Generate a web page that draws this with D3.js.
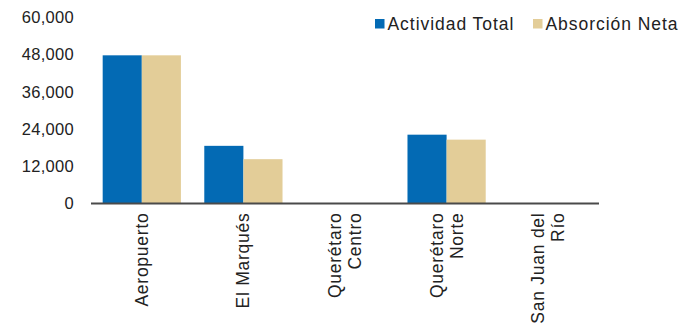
<!DOCTYPE html>
<html lang="es">
<head>
  <meta charset="UTF-8">
  <title>Actividad y absorción</title>
  <script src="https://cdnjs.cloudflare.com/ajax/libs/d3/7.8.5/d3.min.js"></script>
  <style>
    body { margin: 0; background: #fff; }
    svg { display: block; font-family: "Liberation Sans", Arial, sans-serif; }
    .tick text { fill: #222; }
  </style>
</head>
<body>
<div id="wrapper"></div>
<script>
// data
const categories = ["Aeropuerto", "El Marqués", "Querétaro Centro", "Querétaro Norte", "San Juan del Río"]
const catLines = [["Aeropuerto"], ["El Marqués"], ["Querétaro", "Centro"], ["Querétaro", "Norte"], ["San Juan del", "Río"]]
const seriesNames = ["Actividad Total", "Absorción Neta"]
const actividadTotal = [47800, 18600, 0, 22200, 0]
const absorcionNeta = [47800, 14300, 0, 20600, 0]
const yTicks = [0, 12000, 24000, 36000, 48000, 60000]
const colors = ["#036ab4", "#e3cd98"]

const width = 695, height = 324
const margin = { top: 17.5, right: 96, bottom: 120.5, left: 91 }

const svg = d3.select("#wrapper").append("svg")
  .attr("width", width)
  .attr("height", height)

const x0 = d3.scaleBand()
  .domain(categories)
  .range([margin.left, width - margin.right])
  .paddingInner(0.23)
  .paddingOuter(0.115)

const x1 = d3.scaleBand()
  .domain(seriesNames)
  .range([0, x0.bandwidth()])

const y = d3.scaleLinear()
  .domain([0, 60000])
  .range([height - margin.bottom, margin.top])

const rows = categories.map((c, i) => ({ cat: c, vals: [actividadTotal[i], absorcionNeta[i]] }))

// bars
svg.append("g").selectAll("g")
  .data(rows)
  .join("g")
  .attr("transform", d => `translate(${x0(d.cat)},0)`)
  .selectAll("rect")
  .data(d => d.vals.map((v, j) => ({ key: seriesNames[j], v: v, j: j })))
  .join("rect")
  .attr("x", d => x1(d.key))
  .attr("width", x1.bandwidth())
  .attr("y", d => y(d.v))
  .attr("height", d => y(0) - y(d.v))
  .attr("fill", d => colors[d.j])

// y axis (labels only)
const yAxis = svg.append("g")
  .attr("transform", `translate(${margin.left - 17},0)`)
  .call(d3.axisLeft(y).tickValues(yTicks).tickSize(0).tickPadding(0).tickFormat(d3.format(",")))
yAxis.select(".domain").remove()
yAxis.selectAll("text").style("font-size", "16.5px").style("letter-spacing", "0.3px")

// x axis
const xAxis = svg.append("g")
  .attr("transform", `translate(0,${y(0)})`)
  .call(d3.axisBottom(x0).tickSize(0).tickSizeOuter(0).tickFormat(""))
xAxis.select(".domain").attr("stroke", "#4a4a4a").attr("stroke-width", 1.8)
  .attr("d", `M${margin.left},0H${width - margin.right}`)

xAxis.selectAll(".tick").each(function(d, i) {
  const lines = catLines[i]
  const t = d3.select(this).select("text")
    .attr("transform", "rotate(-90)")
    .attr("text-anchor", "end")
    .attr("x", -9)
    .attr("y", 0)
    .attr("dy", null)
    .style("font-size", "17.5px")
    .style("letter-spacing", "0.75px")
  const off = (lines.length - 1) * 10
  lines.forEach((s, k) => {
    t.append("tspan")
      .attr("x", -9)
      .attr("y", -off + k * 20 + 6)
      .text(s)
  })
})

// legend
const legendX = [375, 533]
const legend = svg.append("g").selectAll("g")
  .data(seriesNames)
  .join("g")
  .attr("transform", (d, i) => `translate(${legendX[i]},19)`)
legend.append("rect")
  .attr("width", 9.5).attr("height", 9.5)
  .attr("fill", (d, i) => colors[i])
legend.append("text")
  .attr("x", 12.5).attr("y", 11)
  .style("font-size", "17.5px")
  .style("letter-spacing", "0.95px")
  .attr("fill", "#222")
  .text(d => d)
</script>
</body>
</html>
